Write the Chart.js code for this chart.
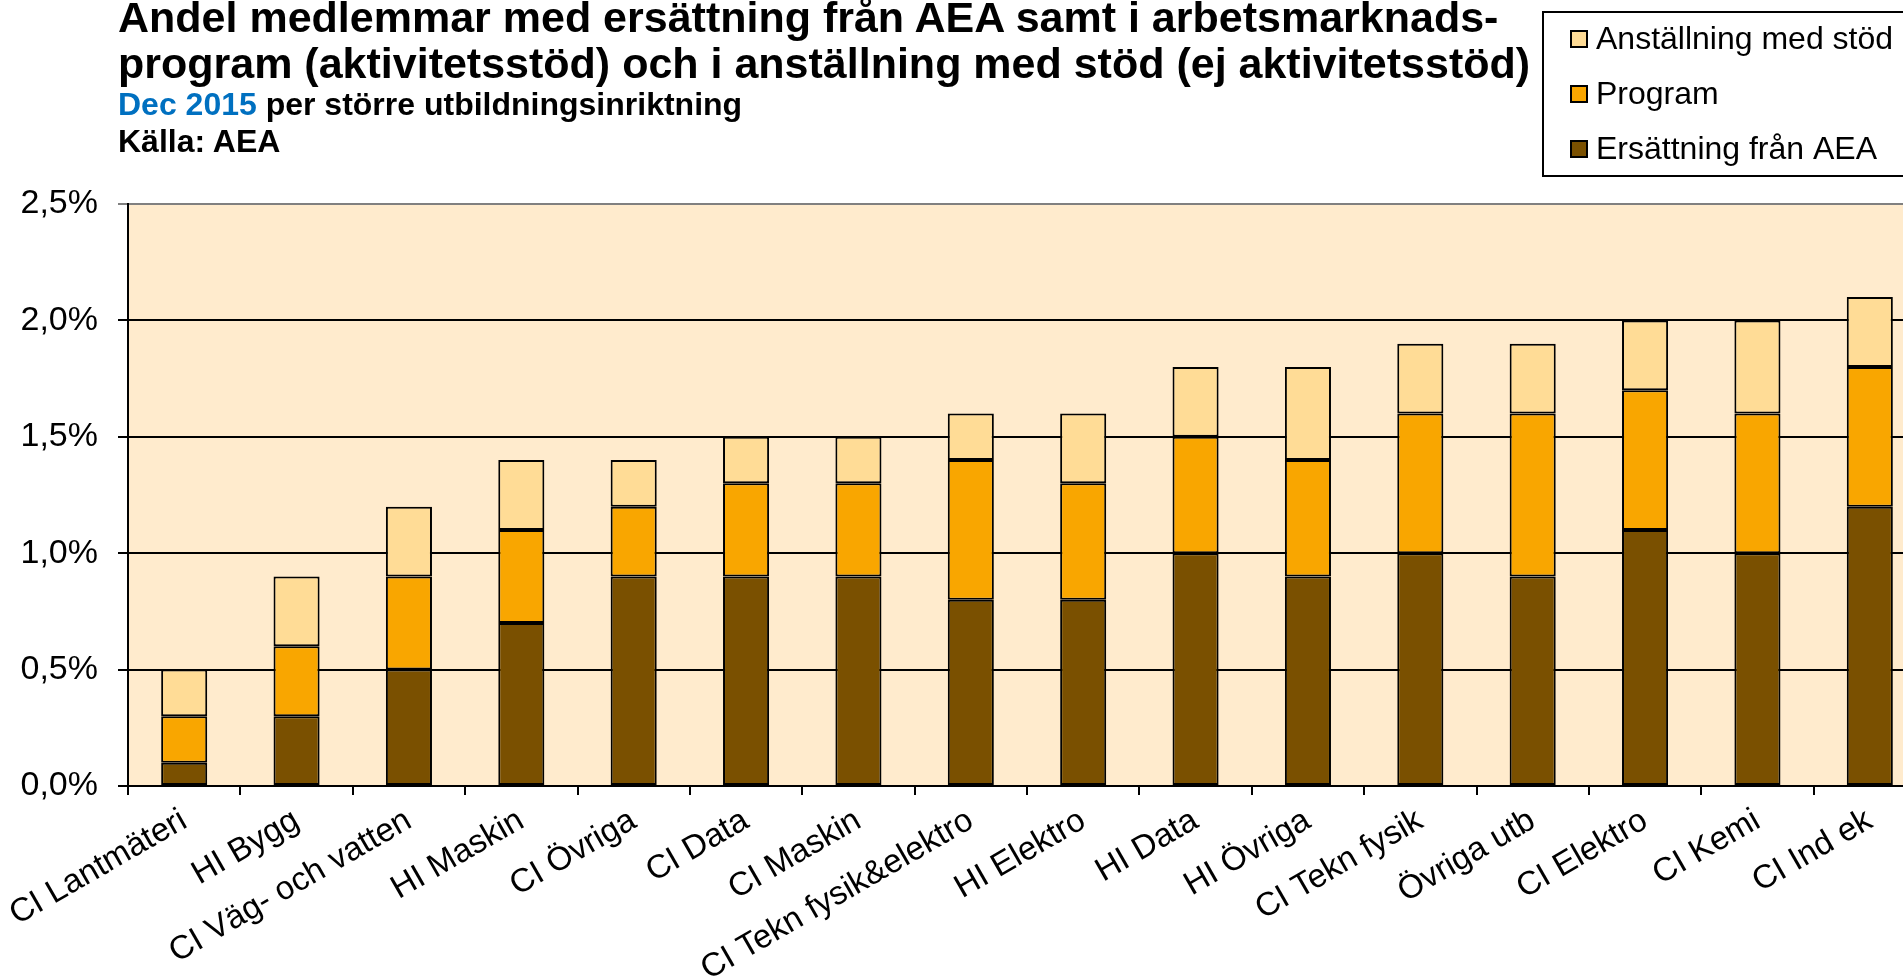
<!DOCTYPE html>
<html>
<head>
<meta charset="utf-8">
<script src="https://cdn.jsdelivr.net/npm/chart.js@4.4.0/dist/chart.umd.min.js"></script>
<style>
  html, body { margin: 0; padding: 0; background: #fff; overflow: hidden; width: 1903px; height: 979px; }
  #wrap { position: absolute; left: 0; top: 0; width: 1935px; height: 979px; }
  .t { position: absolute; left: 118px; font-family: 'Liberation Sans', Arial, sans-serif; font-weight: bold; color: #000; white-space: nowrap; }
  .t1 { font-size: 43px; line-height: 43px; }
  .t2 { font-size: 32px; line-height: 32px; }
  .blue { color: #0070C0; }
</style>
</head>
<body>
<div id="wrap">
  <canvas id="chart" width="1935" height="979"></canvas>
  <div class="t t1" style="top:-4px">Andel medlemmar med ersättning från AEA samt i arbetsmarknads-</div>
  <div class="t t1" style="top:42px">program (aktivitetsstöd) och i anställning med stöd (ej aktivitetsstöd)</div>
  <div class="t t2" style="top:88px"><span class="blue">Dec 2015</span> per större utbildningsinriktning</div>
  <div class="t t2" style="top:125px">Källa: AEA</div>
</div>
<script>
// categories (x axis)
const categories = ['CI Lantmäteri', 'HI Bygg', 'CI Väg- och vatten', 'HI Maskin', 'CI Övriga',
  'CI Data', 'CI Maskin', 'CI Tekn fysik&elektro', 'HI Elektro', 'HI Data', 'HI Övriga',
  'CI Tekn fysik', 'Övriga utb', 'CI Elektro', 'CI Kemi', 'CI Ind ek'];

// stacked series, in percent
const ersattning = [0.1, 0.3, 0.5, 0.7, 0.9, 0.9, 0.9, 0.8, 0.8, 1.0, 0.9, 1.0, 0.9, 1.1, 1.0, 1.2];
const program    = [0.2, 0.3, 0.4, 0.4, 0.3, 0.4, 0.4, 0.6, 0.5, 0.5, 0.5, 0.6, 0.7, 0.6, 0.6, 0.6];
const anstallning = [0.2, 0.3, 0.3, 0.3, 0.2, 0.2, 0.2, 0.2, 0.3, 0.3, 0.4, 0.3, 0.3, 0.3, 0.4, 0.3];

const yTicks = [0, 0.5, 1.0, 1.5, 2.0, 2.5];

const FONT = "'Liberation Sans', Arial, sans-serif";

// plot area fill
const plotBg = {
  id: 'plotBg',
  beforeDraw(chart) {
    const {ctx, chartArea: a} = chart;
    ctx.save();
    ctx.fillStyle = '#FFEBCD';
    ctx.fillRect(a.left, a.top, a.right - a.left, a.bottom - a.top);
    ctx.restore();
  }
};

// boxed legend top right, listed top to bottom like the stack
const boxLegend = {
  id: 'boxLegend',
  afterDraw(chart) {
    const ctx = chart.ctx;
    const sets = chart.data.datasets.slice().reverse();
    ctx.save();
    ctx.strokeStyle = '#000';
    ctx.lineWidth = 2;
    ctx.strokeRect(1543, 12, 400, 164);
    ctx.font = '32px ' + FONT;
    ctx.textBaseline = 'middle';
    sets.forEach((ds, i) => {
      const y = 39 + i * 55;
      ctx.fillStyle = ds.backgroundColor;
      ctx.fillRect(1571, y - 8, 16, 16);
      ctx.lineWidth = 2;
      ctx.strokeRect(1571, y - 8, 16, 16);
      ctx.fillStyle = '#000';
      ctx.fillText(ds.label, 1596, y + 1);
    });
    ctx.restore();
  }
};

const barStyle = {
  borderColor: '#000',
  borderWidth: 2,
  borderSkipped: false,
  barPercentage: 0.41,
  categoryPercentage: 1.0
};

new Chart(document.getElementById('chart'), {
  type: 'bar',
  data: {
    labels: categories,
    datasets: [
      Object.assign({label: 'Ersättning från AEA', data: ersattning, backgroundColor: '#7A5000'}, barStyle),
      Object.assign({label: 'Program', data: program, backgroundColor: '#F9A600'}, barStyle),
      Object.assign({label: 'Anställning med stöd', data: anstallning, backgroundColor: '#FFDC96'}, barStyle)
    ]
  },
  options: {
    responsive: false,
    animation: false,
    devicePixelRatio: 1,
    layout: {padding: {top: 204, right: 9, bottom: 0, left: 0}},
    plugins: {
      legend: {display: false},
      title: {display: false},
      tooltip: {enabled: false}
    },
    scales: {
      x: {
        stacked: true,
        grid: {display: true, drawOnChartArea: false, drawTicks: true, tickLength: 9, color: '#000', lineWidth: 2, offset: true},
        border: {display: true, color: '#000', width: 2},
        ticks: {
          color: '#000',
          font: {family: FONT, size: 33},
          minRotation: 30,
          maxRotation: 30,
          autoSkip: false,
          padding: 6,
          labelOffset: 0
        },
        afterFit(s) {
          s.height = 193;
          s.paddingLeft = 0;
          s.paddingRight = 0;
        }
      },
      y: {
        stacked: true,
        min: 0,
        max: 2.5,
        afterBuildTicks(s) { s.ticks = yTicks.map(v => ({value: v})); },
        grid: {
          color: c => (c.tick && c.tick.value === 2.5) ? '#808080' : '#000',
          lineWidth: 2,
          tickLength: 10
        },
        border: {display: true, color: '#000', width: 2},
        ticks: {
          color: '#000',
          font: {family: FONT, size: 34},
          padding: 20,
          callback: v => v.toFixed(1).replace('.', ',') + '%'
        },
        afterFit(s) { s.width = 128; }
      }
    }
  },
  plugins: [plotBg, boxLegend]
});
</script>
</body>
</html>
